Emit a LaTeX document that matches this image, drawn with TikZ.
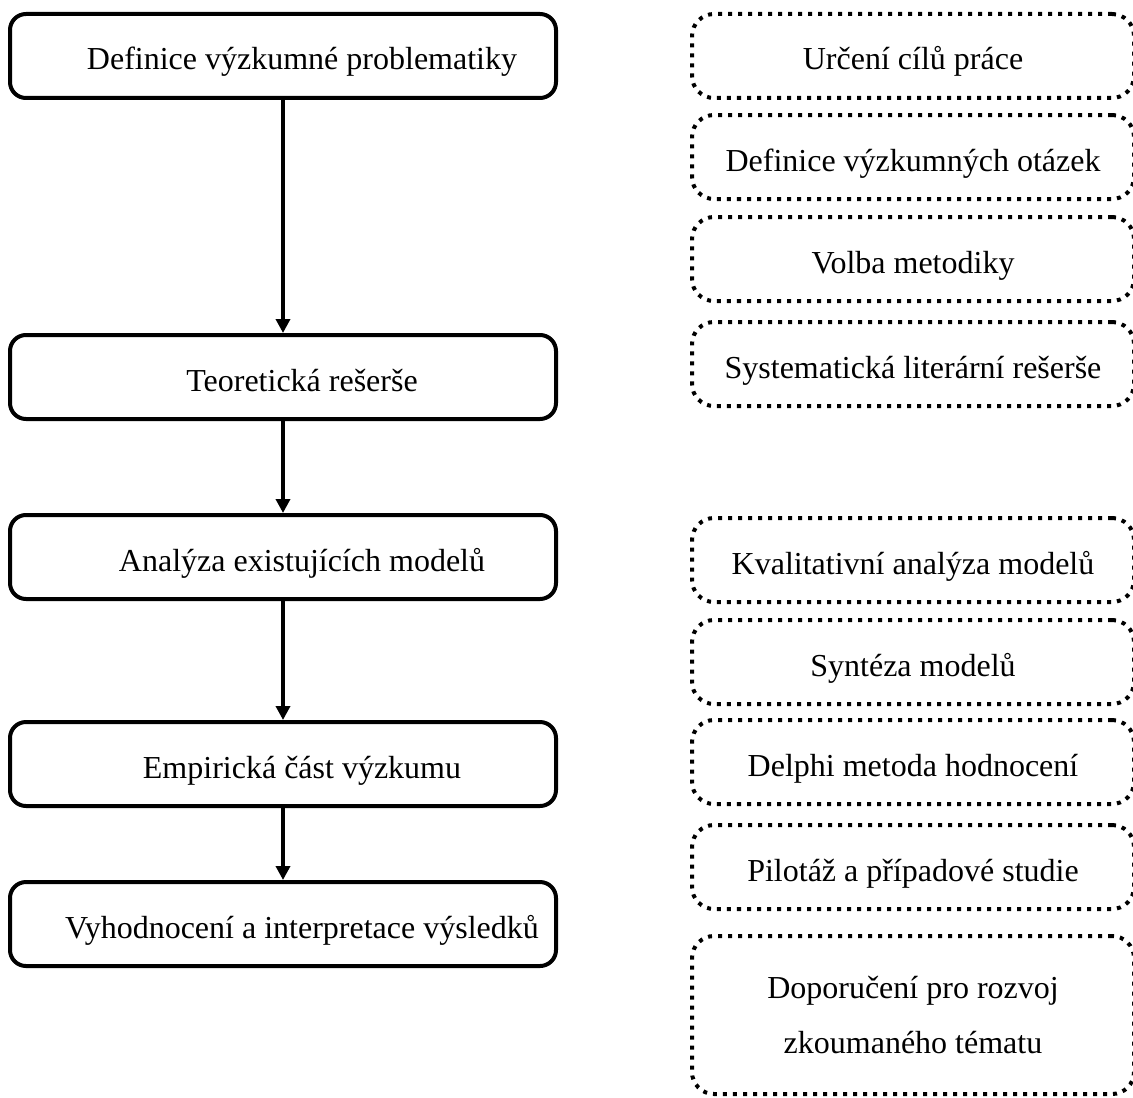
\documentclass[tikz,border=0pt]{standalone}
\usepackage{fontspec}
\setmainfont{Liberation Serif}
\usetikzlibrary{arrows.meta}

\begin{document}
\begin{tikzpicture}
  [x=0.5pt,y=-0.5pt,
   every node/.style={font=\fontsize{16}{27.5}\selectfont},
   stage/.style={draw,line width=2pt,rounded corners=8pt,minimum width=273pt,minimum height=42pt,
     text height=15pt,text depth=1pt,execute at begin node=\hspace*{19pt}},
   task/.style={draw,line width=2pt,rounded corners=11pt,dash pattern=on 2pt off 3pt,minimum width=221pt,minimum height=42pt,
     text height=15pt,text depth=1pt}]
  \useasboundingbox (0,0) rectangle (1133,1097);

  \node[stage] (a) at (283,56)  {Definice výzkumné problematiky};
  \node[stage] (b) at (283,377) {Teoretická rešerše};
  \node[stage] (c) at (283,557) {Analýza existujících modelů};
  \node[stage] (d) at (283,764) {Empirická část výzkumu};
  \node[stage] (e) at (283,924) {Vyhodnocení a interpretace výsledků};

  \node[task] (t1) at (913,56)  {Určení cílů práce};
  \node[task] (t2) at (913,157) {Definice výzkumných otázek};
  \node[task] (t3) at (913,259) {Volba metodiky};
  \node[task] (t4) at (913,364) {Systematická literární rešerše};
  \node[task] (t5) at (913,560) {Kvalitativní analýza modelů};
  \node[task] (t6) at (913,662) {Syntéza modelů};
  \node[task] (t7) at (913,762) {Delphi metoda hodnocení};
  \node[task] (t8) at (913,867) {Pilotáž a případové studie};
  \node[task,align=center,text height=,text depth=,minimum height=79pt] (t9) at (913,1015) {Doporučení pro rozvoj\\zkoumaného tématu};

  \foreach \from/\to in {a/b,b/c,c/d,d/e}
    \draw[line width=2pt,-{Triangle[width=7pt,length=7pt]}] (\from) -- (\to);

\end{tikzpicture}
\end{document}
